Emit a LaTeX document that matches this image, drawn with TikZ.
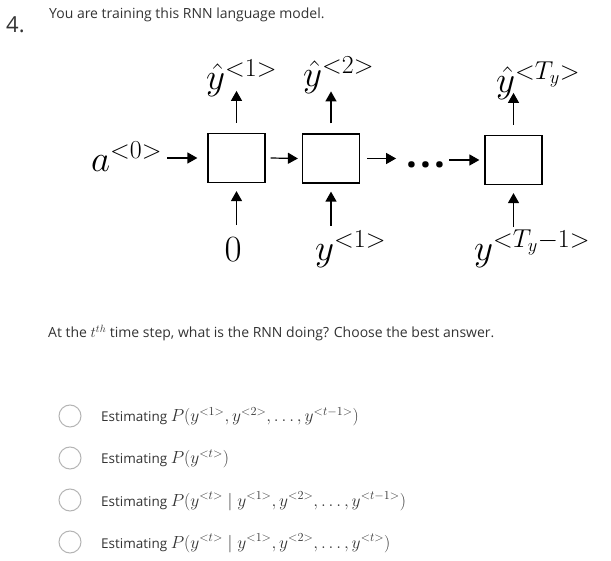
\RequirePackage{fix-cm}
\documentclass[tikz,border=0pt]{standalone}
\usepackage{fontspec}
\setmainfont{Open Sans}
\usetikzlibrary{arrows.meta,calc}
\definecolor{txt}{HTML}{333333}
\definecolor{ring}{HTML}{B4B4B4}
\newcommand{\optmath}[1]{{\fontsize{17.5}{22}\selectfont$#1$}}
\tikzset{
  cell/.style={draw, line width=1.2pt, minimum width=57pt, minimum height=49pt, inner sep=0pt},
  arr/.style={-{Triangle[length=10pt,width=11pt]}, line width=1.2pt},
  lbl/.style={font=\fontsize{37}{40}\selectfont, inner sep=0pt},
  body/.style={font=\fontsize{14}{16}\selectfont, text=txt, inner sep=0pt},
  radio/.style={circle, draw=ring, line width=1pt, fill=white, minimum size=22pt, inner sep=0pt}
}
\begin{document}
\begin{tikzpicture}[x=1pt,y=1pt]
\useasboundingbox (0,0) rectangle (611,-561);
% header
\node[anchor=base west, inner sep=0pt, text=txt, font=\fontsize{22}{24}\selectfont] (num) at (6,-33) {4.};
\node[anchor=base west, inner sep=0pt, text=txt, font=\fontsize{14}{18}\selectfont] (title) at (49,-19) {You are training this RNN language model.};
% cells
\node[cell] (c1) at (236.5,-158) {};
\node[cell] (c2) at (331,-158.5) {};
\node[cell] (c3) at (513.5,-160) {};
\node[inner sep=0pt, anchor=base, font=\fontsize{38}{40}\selectfont\bfseries] (dots) at (426,-168) {.\kern3pt.\kern3pt.};
% labels
\node[lbl, anchor=base west] (a0) at (91,-172) {$a^{<0>}$};
\node[lbl, anchor=south west] (yh1) at (206,-97) {$\hat{y}^{<1>}$};
\node[lbl, anchor=south west] (yh2) at (303,-94) {$\hat{y}^{<2>}$};
\node[lbl, anchor=south west] (yh3) at (496,-100) {$\hat{y}^{<T_y>}$};
\node[lbl, anchor=base] (x1) at (233,-262) {$0$};
\node[lbl, anchor=south west] (x2) at (315,-268) {$y^{<1>}$};
\node[lbl, anchor=south west] (x3) at (474,-268) {$y^{<T_y-1>}$};
% horizontal arrows
\draw[arr] ([xshift=-40pt]c1.west) -- ([xshift=-10pt]c1.west);
\draw[arr] ([xshift=5pt]c1.east) -- ([xshift=-4pt]c2.west);
\draw[arr] ([xshift=7pt]c2.east) -- ([xshift=36pt]c2.east);
\draw[arr] ([xshift=-35pt]c3.west) -- ([xshift=-5pt]c3.west);
% vertical arrows
\foreach \c in {c1,c2,c3}{
  \draw[arr] ([yshift=10pt]\c.north) -- ([yshift=42pt]\c.north);
  \draw[arr] ([yshift=-42pt]\c.south) -- ([yshift=-8pt]\c.south);
}
% question
\node[body, anchor=base west] (q) at (48,-338) {At the {\fontsize{15}{16}\selectfont$t^{th}$} time step, what is the RNN doing? Choose the best answer.};
% options
\node[radio] (r1) at (70,-416) {};
\node[radio] (r2) at (70,-458) {};
\node[radio] (r3) at (70,-500) {};
\node[radio] (r4) at (70,-542) {};
\node[body, anchor=base west, font=\fontsize{13.5}{16}\selectfont] (o1) at (101,-422) {Estimating \optmath{P(y^{<1>},y^{<2>},\ldots,y^{<t-1>})}};
\node[body, anchor=base west, font=\fontsize{13.5}{16}\selectfont] (o2) at (101,-464) {Estimating \optmath{P(y^{<t>})}};
\node[body, anchor=base west, font=\fontsize{13.5}{16}\selectfont] (o3) at (101,-506) {Estimating \optmath{P(y^{<t>}\mid y^{<1>},y^{<2>},\ldots,y^{<t-1>})}};
\node[body, anchor=base west, font=\fontsize{13.5}{16}\selectfont] (o4) at (101,-548) {Estimating \optmath{P(y^{<t>}\mid y^{<1>},y^{<2>},\ldots,y^{<t>})}};
\end{tikzpicture}
\end{document}
